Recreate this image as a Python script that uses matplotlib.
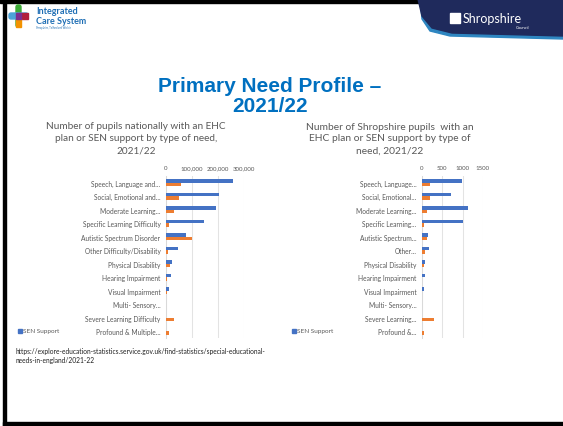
import matplotlib.pyplot as plt
import numpy as np
from matplotlib.patches import Rectangle, FancyBboxPatch, Polygon

# Data
needs_left = ['Speech, Language and...', 'Social, Emotional and...', 'Moderate Learning...',
              'Specific Learning Difficulty', 'Autistic Spectrum Disorder',
              'Other Difficulty/Disability', 'Physical Disability', 'Hearing Impairment',
              'Visual Impairment', 'Multi- Sensory...', 'Severe Learning Difficulty',
              'Profound & Multiple...']
needs_right = ['Speech, Language...', 'Social, Emotional...', 'Moderate Learning...',
               'Specific Learning...', 'Autistic Spectrum...', 'Other...',
               'Physical Disability', 'Hearing Impairment', 'Visual Impairment',
               'Multi- Sensory...', 'Severe Learning...', 'Profound &...']
national_sen = [256000, 204000, 192000, 146000, 77000, 45000, 23000, 18000, 10000, 1500, 1000, 500]
national_ehc = [56000, 49000, 32000, 13000, 101000, 9000, 14000, 3000, 2000, 500, 32000, 12000]
shrop_sen = [975, 717, 1135, 1018, 150, 167, 67, 83, 50, 5, 5, 0]
shrop_ehc = [185, 200, 135, 40, 135, 67, 40, 10, 0, 0, 292, 40]
national_ticks = [0, 100000, 200000, 300000]
shrop_ticks = [0, 500, 1000, 1500]

blue = '#4472C4'
orange = '#ED7D31'
grey = '#595959'
font = 'Lato'

W, H = 563, 427
fig = plt.figure(figsize=(5.63, 4.27), dpi=100)

# decoration layer in pixel coordinates
deco = fig.add_axes([0, 0, 1, 1], zorder=0)
deco.set_xlim(0, W)
deco.set_ylim(H, 0)
deco.axis('off')

# slide border
deco.add_patch(Rectangle((0, 0), W, 4, color='black'))
deco.add_patch(Rectangle((3, 0), 3, H, color='black'))
deco.add_patch(Rectangle((3, 423), W, 4, color='black'))

# ICS logo
deco.add_patch(FancyBboxPatch((16, 6), 5, 22, boxstyle='round,pad=0,rounding_size=2', color='#3BAA35'))
deco.add_patch(FancyBboxPatch((9, 14), 19, 6, boxstyle='round,pad=0,rounding_size=2', color='#4BA3D9'))
deco.add_patch(Rectangle((18.5, 14), 9.5, 6, color='#B11F3B'))
deco.add_patch(Rectangle((16, 20), 5, 8, color='#F39200'))
deco.add_patch(Rectangle((16, 14), 5, 6, color='#7B2D8E'))
deco.text(36, 12, 'Integrated', fontsize=6.5, color='#1F6FB5', fontweight='bold', family=font, va='center')
deco.text(36, 21, 'Care System', fontsize=6.5, color='#1F6FB5', fontweight='bold', family=font, va='center')
deco.text(36, 28, 'Shropshire, Telford and Wrekin', fontsize=1.9, color='#1F6FB5', family=font, va='center')

# Shropshire Council logo
deco.add_patch(Polygon([(420, 0), (W, 0), (W, 40), (450, 37), (430, 32), (422, 20)],
                       closed=True, color='#2E86C1'))
deco.add_patch(Polygon([(418, 0), (W, 0), (W, 37), (452, 34), (432, 29), (422, 17)],
                       closed=True, color='#1F2A5C'))
deco.add_patch(Rectangle((450, 14), 10, 10, color='white'))
deco.text(463, 19, 'Shropshire', fontsize=9, color='white', family=font, va='center')
deco.text(516, 28, 'Council', fontsize=3, color='white', family=font, va='center')

# main title
deco.text(270, 87, 'Primary Need Profile \u2013', fontsize=15, color='#0070C0', fontweight='bold',
          family='Liberation Sans', ha='center', va='center')
deco.text(270, 107, '2021/22', fontsize=15, color='#0070C0', fontweight='bold',
          family='Liberation Sans', ha='center', va='center')

# chart titles
deco.text(136, 139, 'Number of pupils nationally with an EHC\nplan or SEN support by type of need,\n2021/22',
          fontsize=7.2, color=grey, family=font, ha='center', va='center', linespacing=1.45)
deco.text(390, 139, 'Number of Shropshire pupils  with an\nEHC plan or SEN support by type of\nneed, 2021/22',
          fontsize=7.4, color=grey, family=font, ha='center', va='center', linespacing=1.4)

# source
deco.text(15, 356, 'https://explore-education-statistics.service.gov.uk/find-statistics/special-educational-\nneeds-in-england/2021-22',
          fontsize=4.8, color='#222222', family=font, ha='left', va='center', linespacing=1.3)


def bar_chart(rect, labels, sen, ehc, ticks, tick_labels):
    ax = fig.add_axes(rect, zorder=1)
    y = np.arange(len(labels))
    h = 0.25
    ax.barh(y - h / 2, sen, h, color=blue, label='SEN Support', zorder=3)
    ax.barh(y + h / 2, ehc, h, color=orange, zorder=3)
    ax.set_yticks(y)
    ax.set_yticklabels(labels, fontsize=4.8, color=grey, family=font)
    ax.set_ylim(len(labels) - 0.5, -0.5)
    ax.set_xlim(ticks[0], ticks[-1])
    ax.set_xticks(ticks)
    ax.set_xticklabels(tick_labels, fontsize=4.4, color=grey, family=font)
    ax.xaxis.tick_top()
    ax.tick_params(length=0, pad=4)
    ax.grid(axis='x', color='#E3E3E3', lw=0.75, zorder=0)
    for s in ['top', 'right', 'bottom']:
        ax.spines[s].set_visible(False)
    ax.spines['left'].set_color('#D9D9D9')
    ax.spines['left'].set_linewidth(0.75)
    ax.set_facecolor('none')
    return ax


ax1 = bar_chart([166 / W, 1 - 339 / H, 78 / W, 162 / H], needs_left, national_sen, national_ehc,
                national_ticks, ['0', '100,000', '200,000', '300,000'])
ax2 = bar_chart([422 / W, 1 - 339 / H, 61 / W, 162 / H], needs_right, shrop_sen, shrop_ehc,
                shrop_ticks, [str(t) for t in shrop_ticks])

# legends (only the first entry is visible in the slide)
for x0 in (18, 292):
    deco.add_patch(Rectangle((x0, 330), 3.5, 3.5, color=blue))
    deco.text(x0 + 5, 332, 'SEN Support', fontsize=4.6, color=grey, family=font, va='center')

fig.savefig('out.png', dpi=100)
